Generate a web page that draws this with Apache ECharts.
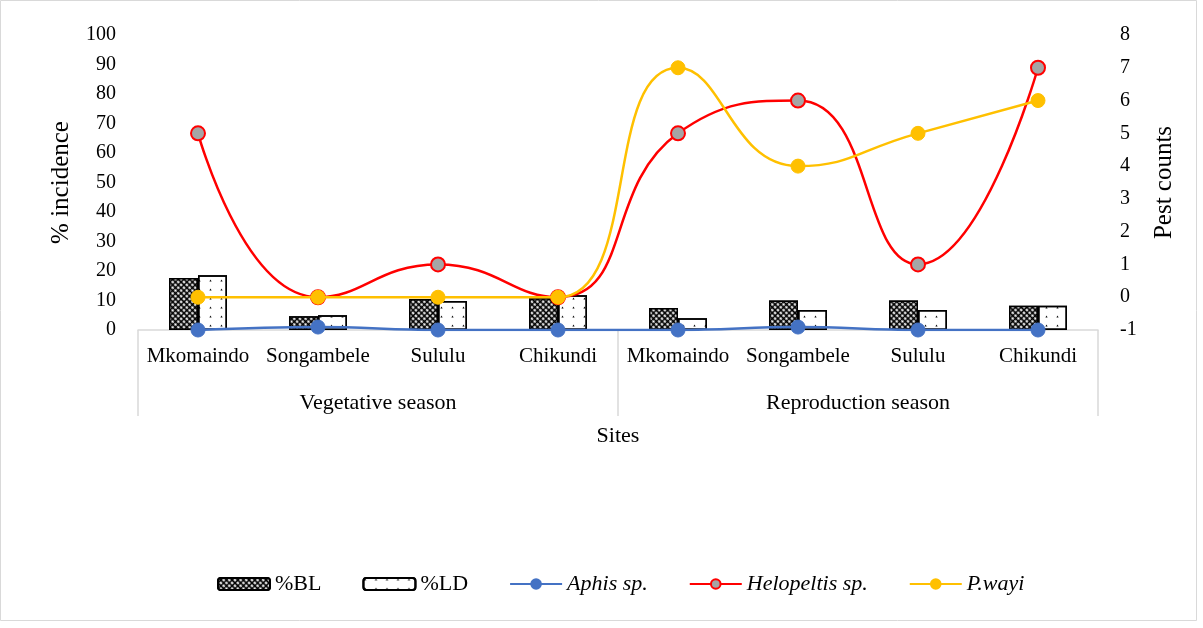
<!DOCTYPE html>
<html>
<head>
<meta charset="utf-8">
<script src="https://cdn.jsdelivr.net/npm/echarts@6/dist/echarts.min.js"></script>
<style>
  html, body { margin: 0; padding: 0; background: #fff; }
  #chart { width: 1203px; height: 628px; }
</style>
</head>
<body>
<div id="chart"></div>
<script>
'use strict';

const sites = ['Mkomaindo', 'Songambele', 'Sululu', 'Chikundi', 'Mkomaindo', 'Songambele', 'Sululu', 'Chikundi'];
const seasons = ['Vegetative season', 'Reproduction season'];

// % incidence (left axis)
const pctBL = [17.6, 4.7, 10.5, 10.8, 7.5, 10, 10, 8.2];
const pctLD = [18.6, 5, 9.8, 11.8, 4, 6.8, 6.8, 8.2];

// pest counts
const aphis = [0, 1, 0, 0, 0, 1, 0, 0];
const helopeltis = [5, 0, 1, 0, 5, 6, 1, 7];
const pwayi = [0, 0, 0, 0, 7, 4, 5, 6];

const font = 'Liberation Serif, Times New Roman, serif';
const txt = { color: '#000', fontFamily: font, fontSize: 20 };
const titleTxt = { color: '#000', fontFamily: font, fontSize: 25 };

const chart = echarts.init(document.getElementById('chart'), null, { renderer: 'canvas' });

chart.setOption({
  animation: false,
  backgroundColor: '#fff',
  textStyle: { fontFamily: font },
  graphic: [{
    type: 'rect',
    shape: { x: 0.5, y: 0.5, width: 1196, height: 620 },
    style: { fill: 'none', stroke: '#d9d9d9', lineWidth: 1 },
    silent: true
  }],
  grid: { left: 138, right: 105, top: 35, bottom: 298 },
  legend: {
    left: 212,
    top: 568,
    itemWidth: 52,
    itemHeight: 12,
    itemGap: 41,
    textStyle: { color: '#000', fontFamily: font, fontSize: 22 },
    data: [
      { name: '%BL' },
      { name: '%LD' },
      { name: 'Aphis sp.', textStyle: { fontStyle: 'italic' } },
      { name: 'Helopeltis sp.', textStyle: { fontStyle: 'italic' } },
      { name: 'P.wayi', textStyle: { fontStyle: 'italic' } }
    ]
  },
  xAxis: [
    {
      type: 'category',
      data: sites,
      position: 'bottom',
      axisLine: { onZero: false, lineStyle: { color: '#d9d9d9', width: 1.5 } },
      axisTick: { show: false },
      axisLabel: Object.assign({ interval: 0, margin: 16 }, txt, { fontSize: 21 })
    },
    {
      type: 'category',
      data: seasons,
      position: 'bottom',
      axisLine: { show: false, onZero: false },
      axisTick: { show: true, length: 86, lineStyle: { color: '#d9d9d9', width: 1.5 } },
      axisLabel: Object.assign({ interval: 0, margin: 62 }, txt, { fontSize: 22 }),
      name: 'Sites',
      nameLocation: 'middle',
      nameGap: 95,
      nameTextStyle: { color: '#000', fontFamily: font, fontSize: 22 }
    }
  ],
  yAxis: [
    {
      type: 'value',
      min: 0,
      max: 100,
      interval: 10,
      axisLine: { show: false },
      axisTick: { show: false },
      splitLine: { show: false },
      axisLabel: Object.assign({ margin: 22 }, txt),
      name: '% incidence',
      nameLocation: 'middle',
      nameGap: 64,
      nameTextStyle: titleTxt
    },
    {
      type: 'value',
      min: -1,
      max: 8,
      interval: 1,
      position: 'right',
      axisLine: { show: false },
      axisTick: { show: false },
      splitLine: { show: false },
      axisLabel: Object.assign({ margin: 22 }, txt),
      name: 'Pest counts',
      nameLocation: 'middle',
      nameGap: 54,
      nameTextStyle: titleTxt
    }
  ],
  series: [
    {
      name: '%BL',
      type: 'bar',
      data: pctBL,
      barWidth: 29,
      barGap: '0%',
      itemStyle: {
        color: '#000',
        borderColor: '#000',
        borderWidth: 1.5,
        decal: {
          symbol: 'circle',
          symbolSize: 0.9,
          color: '#fff',
          dashArrayX: [[3, 1]],
          dashArrayY: [3, 1],
          rotation: 0.785
        }
      }
    },
    {
      name: '%LD',
      type: 'bar',
      data: pctLD,
      barWidth: 29,
      itemStyle: {
        color: '#fff',
        borderColor: '#000',
        borderWidth: 1.5,
        decal: {
          symbol: 'triangle',
          symbolSize: 0.7,
          color: '#000',
          dashArrayX: [[3, 8]],
          dashArrayY: [3, 6],
          rotation: 0
        }
      }
    },
    {
      name: 'Aphis sp.',
      type: 'line',
      yAxisIndex: 0,
      data: aphis,
      smooth: 0.4,
      symbol: 'circle',
      symbolSize: 14,
      z: 3,
      lineStyle: { color: '#4472C4', width: 2.5 },
      itemStyle: { color: '#4472C4', borderColor: '#4472C4', borderWidth: 1 }
    },
    {
      name: 'Helopeltis sp.',
      type: 'line',
      yAxisIndex: 1,
      data: helopeltis,
      smooth: 0.5,
      symbol: 'circle',
      symbolSize: 14,
      z: 4,
      lineStyle: { color: '#FF0000', width: 2.5 },
      itemStyle: { color: '#A5A5A5', borderColor: '#FF0000', borderWidth: 2 }
    },
    {
      name: 'P.wayi',
      type: 'line',
      yAxisIndex: 1,
      data: pwayi,
      smooth: 0.5,
      symbol: 'circle',
      symbolSize: 14,
      z: 5,
      lineStyle: { color: '#FFC000', width: 2.5 },
      itemStyle: { color: '#FFC000', borderColor: '#FFC000', borderWidth: 1 }
    }
  ]
});
</script>
</body>
</html>
